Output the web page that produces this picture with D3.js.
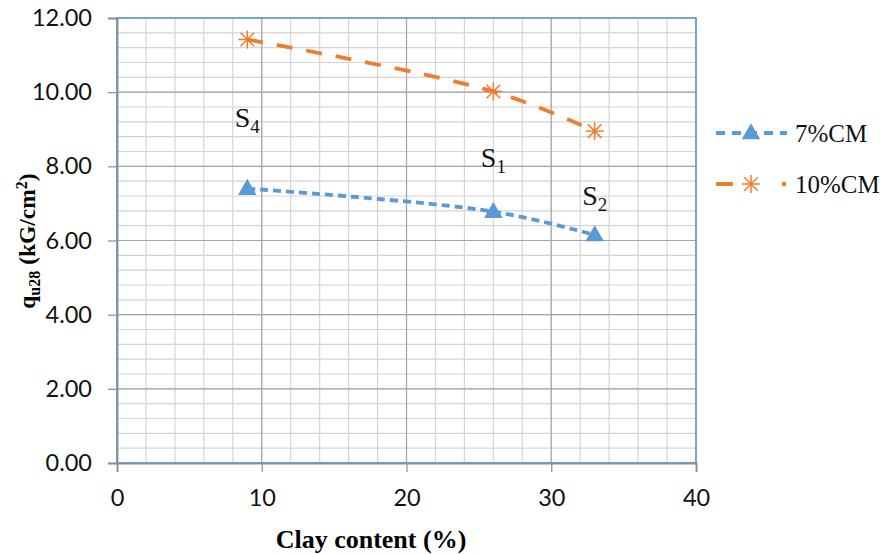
<!DOCTYPE html>
<html lang="en">
<head>
<meta charset="UTF-8">
<title>Clay content vs qu28</title>
<script src="https://cdn.jsdelivr.net/npm/d3@7"></script>
<style>
  body { margin: 0; background: #fff; }
</style>
</head>
<body>
<div id="chart"></div>
<script>
// data
const clay = [9, 26, 33];
const cm7 = [7.40, 6.78, 6.15];
const cm10 = [11.42, 10.02, 8.95];
const seriesNames = ["7%CM", "10%CM"];
const sampleLabels = [
  { name: "S", sub: "4", x: 9, y: 9.06 },
  { name: "S", sub: "1", x: 26, y: 7.98 },
  { name: "S", sub: "2", x: 33, y: 6.96 }
];
const xTicks = [0, 10, 20, 30, 40];
const yTicks = [0, 2, 4, 6, 8, 10, 12];

const W = 887, H = 554;
const margin = { top: 18, right: 191, bottom: 91, left: 117 };
const w = W - margin.left - margin.right;
const h = H - margin.top - margin.bottom;
const serif = "'Liberation Serif', 'Times New Roman', serif";

const svg = d3.select("#chart").append("svg")
  .attr("width", W).attr("height", H);

const g = svg.append("g")
  .attr("transform", `translate(${margin.left},${margin.top})`);

const x = d3.scaleLinear().domain([0, 40]).range([0, w]);
const y = d3.scaleLinear().domain([0, 12]).range([h, 0]);

// minor grid
g.append("g").selectAll("line")
  .data(d3.range(0, 40.01, 2))
  .join("line")
  .attr("x1", d => x(d)).attr("x2", d => x(d))
  .attr("y1", 0).attr("y2", h)
  .attr("stroke", "#d4d4d4").attr("stroke-width", 1.2);
g.append("g").selectAll("line")
  .data(d3.range(0, 12.01, 0.4))
  .join("line")
  .attr("x1", 0).attr("x2", w)
  .attr("y1", d => y(d)).attr("y2", d => y(d))
  .attr("stroke", "#d4d4d4").attr("stroke-width", 1.2);

// major grid
g.append("g").selectAll("line")
  .data(xTicks)
  .join("line")
  .attr("x1", d => x(d)).attr("x2", d => x(d))
  .attr("y1", 0).attr("y2", h)
  .attr("stroke", "#a6a6a6").attr("stroke-width", 1.2);
g.append("g").selectAll("line")
  .data(yTicks)
  .join("line")
  .attr("x1", 0).attr("x2", w)
  .attr("y1", d => y(d)).attr("y2", d => y(d))
  .attr("stroke", "#a6a6a6").attr("stroke-width", 1.2);

// plot border (top/right blue)
g.append("rect")
  .attr("width", w).attr("height", h)
  .attr("fill", "none").attr("stroke", "#5b9bd5").attr("stroke-width", 1.5);

// axes
const xAxis = d3.axisBottom(x).tickValues(xTicks).tickSize(9).tickPadding(17)
  .tickFormat(d3.format("d"));
const yAxis = d3.axisLeft(y).tickValues(yTicks).tickSize(9).tickPadding(16)
  .tickFormat(d3.format(".2f"));

const xg = g.append("g").attr("transform", `translate(0,${h})`).call(xAxis);
const yg = g.append("g").call(yAxis);
[xg, yg].forEach(a => {
  a.select(".domain").attr("stroke", "#7f8fa6").attr("stroke-width", 1.8);
  a.selectAll(".tick line").attr("stroke", "#8c8c8c").attr("stroke-width", 1.2);
  a.selectAll(".tick text")
    .attr("font-family", "Lato, 'Open Sans', sans-serif")
    .attr("font-size", 23.5).attr("fill", "#111");
});

// lines
const line = d3.line()
  .x(d => x(d[0])).y(d => y(d[1]))
  .curve(d3.curveCatmullRom.alpha(0.5));

const s7 = clay.map((c, i) => [c, cm7[i]]);
const s10 = clay.map((c, i) => [c, cm10[i]]);

g.append("path").datum(s7)
  .attr("d", line)
  .attr("fill", "none").attr("stroke", "#5b9bd5")
  .attr("stroke-width", 3.8).attr("stroke-dasharray", "8,5");

g.append("path").datum(s10)
  .attr("d", line)
  .attr("fill", "none").attr("stroke", "#ed7d31")
  .attr("stroke-width", 3.8).attr("stroke-dasharray", "16,14");

// markers
const tri = d3.symbol().type(d3.symbolTriangle).size(150);
g.append("g").selectAll("path")
  .data(s7).join("path")
  .attr("d", tri)
  .attr("transform", d => `translate(${x(d[0])},${y(d[1]) + 1})`)
  .attr("fill", "#5b9bd5");

function star(sel, s) {
  sel.append("line").attr("x1", -s).attr("x2", s).attr("y1", 0).attr("y2", 0);
  sel.append("line").attr("x1", 0).attr("x2", 0).attr("y1", -s).attr("y2", s);
  sel.append("line").attr("x1", -s * 0.75).attr("x2", s * 0.75).attr("y1", -s * 0.75).attr("y2", s * 0.75);
  sel.append("line").attr("x1", -s * 0.75).attr("x2", s * 0.75).attr("y1", s * 0.75).attr("y2", -s * 0.75);
}
g.append("g").selectAll("g")
  .data(s10).join("g")
  .attr("transform", d => `translate(${x(d[0])},${y(d[1])})`)
  .attr("stroke", "#ed7d31").attr("stroke-width", 1.5)
  .each(function () { star(d3.select(this), 9); });

// sample labels
const lab = g.append("g").selectAll("text")
  .data(sampleLabels).join("text")
  .attr("x", d => x(d.x)).attr("y", d => y(d.y))
  .attr("text-anchor", "middle")
  .attr("font-family", serif)
  .attr("font-size", 28).attr("fill", "#111");
lab.append("tspan").text(d => d.name);
lab.append("tspan").attr("font-size", 19).attr("dy", 6).text(d => d.sub);

// axis titles
svg.append("text")
  .attr("x", 371).attr("y", 548)
  .attr("text-anchor", "middle")
  .attr("font-family", serif)
  .attr("font-weight", "bold").attr("font-size", 26)
  .text("Clay content (%)");

const yt = svg.append("text")
  .attr("transform", `translate(35,241) rotate(-90)`)
  .attr("text-anchor", "middle")
  .attr("font-family", serif)
  .attr("font-weight", "bold").attr("font-size", 23.5);
yt.append("tspan").text("q");
yt.append("tspan").attr("font-size", 16).attr("dy", 5).text("u28");
yt.append("tspan").attr("dy", -5).text(" (kG/cm");
yt.append("tspan").attr("font-size", 16).attr("dy", -8).text("2");
yt.append("tspan").attr("dy", 8).text(")");

// legend
const legend = svg.append("g").attr("transform", "translate(716,133)");
const items = [
  { name: seriesNames[0], color: "#5b9bd5", dash: "9,7", mark: "tri" },
  { name: seriesNames[1], color: "#ed7d31", dash: "17,49,4,50", mark: "star" }
];
items.forEach((it, i) => {
  const row = legend.append("g").attr("transform", `translate(0,${i * 51})`);
  row.append("line").attr("x1", 0).attr("x2", 71).attr("y1", 0).attr("y2", 0)
    .attr("stroke", it.color).attr("stroke-width", 3.8)
    .attr("stroke-dasharray", it.dash);
  if (it.mark === "tri") {
    row.append("path").attr("d", tri).attr("transform", "translate(35,1)")
      .attr("fill", it.color);
  } else {
    const st = row.append("g").attr("transform", "translate(35,0)")
      .attr("stroke", it.color).attr("stroke-width", 1.5);
    star(st, 9);
  }
  row.append("text").attr("x", 79).attr("y", 9)
    .attr("font-family", serif)
    .attr("font-size", 25).attr("fill", "#111")
    .text(it.name);
});
</script>
</body>
</html>
